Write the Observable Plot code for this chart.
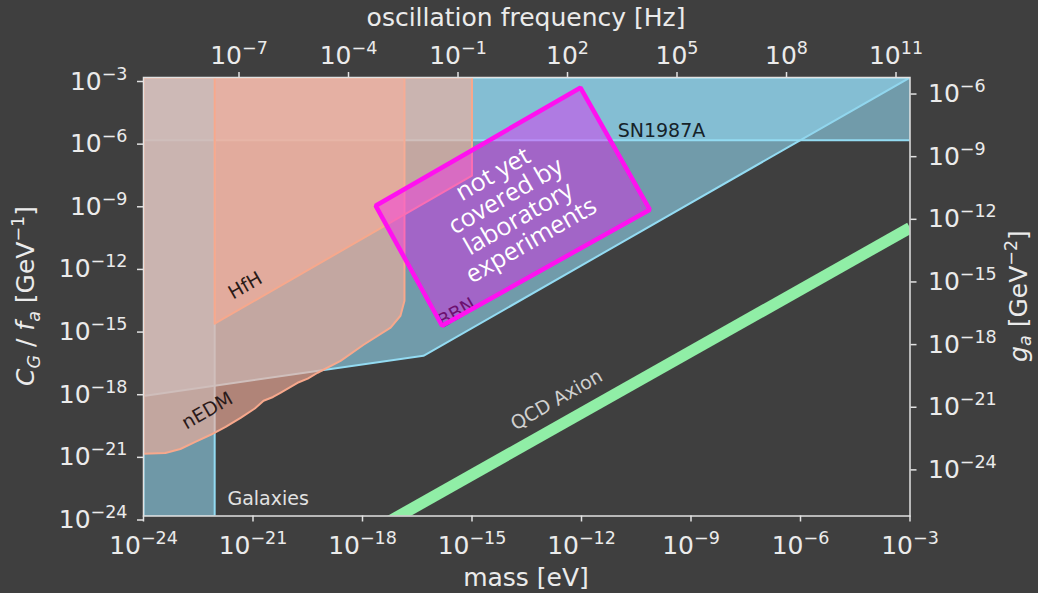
<!DOCTYPE html>
<html>
<head>
<meta charset="utf-8">
<script src="https://cdn.jsdelivr.net/npm/d3@7"></script>
<script src="https://cdn.jsdelivr.net/npm/@observablehq/plot@0.6"></script>
<style>
  html, body { margin: 0; padding: 0; background: #3f3f3f; }
  #chart { width: 1038px; height: 593px; }
</style>
</head>
<body>
<div id="chart"></div>
<script>
// ---- tick values (powers of ten) ----
const massTickExponents = [-24, -21, -18, -15, -12, -9, -6, -3];
const couplingTickExponents = [-3, -6, -9, -12, -15, -18, -21, -24];
const frequencyTickExponents = [-7, -4, -1, 2, 5, 8, 11];
const gaTickExponents = [-6, -9, -12, -15, -18, -21, -24];

// secondary axes: f = m / h, and g_a proportional to C_G / f_a
const planckEvSeconds = 4.135667696e-15;
const gaPerCouplingExponent = -2.4;

// ---- excluded regions: log10(mass / eV), log10(C_G/f_a / GeV^-1) ----
const bbnLogMass = [-24, -16.33, -3, -24];
const bbnLogCoupling = [-18.25, -16.33, -3, -3];

const sn1987aLogMass = [-24, -3, -3, -24];
const sn1987aLogCoupling = [-6, -6, -3, -3];

const galaxiesLogMass = [-24, -22.05, -22.05, -24];
const galaxiesLogCoupling = [-24, -24, -3, -3];

const nedmLogMass = [-24, -23.40, -22.99, -22.58, -22.16, -21.75, -21.34, -20.95, -20.71, -20.45, -20.25, -19.78, -19.50, -19.23, -18.60, -17.97, -17.23, -16.96, -16.85, -16.85, -24];
const nedmLogCoupling = [-21.02, -20.98, -20.79, -20.45, -20.11, -19.73, -19.30, -18.85, -18.48, -18.30, -18.10, -17.62, -17.42, -17.14, -16.57, -15.80, -14.98, -14.41, -13.69, -3, -3];

const hfhLogMass = [-22.05, -15, -15, -22.05];
const hfhLogCoupling = [-14.79, -7.7, -3, -3];

// QCD axion band
const qcdLogMass = [-17.5, -3];
const qcdLogCoupling = [-24.49, -10.2];

// highlighted target window
const windowLogMass = [-17.64, -12.03, -10.13, -15.82];
const windowLogCoupling = [-9.14, -3.49, -9.33, -14.89];
const windowText = "not yet\ncovered by\nlaboratory\nexperiments";

// ---- helpers ----
const points = (lm, lc) => lm.map((m, i) => ({mass: 10 ** m, coupling: 10 ** lc[i]}));
const pow10Label = (e) => "10^" + (e < 0 ? "\u2212" + (-e) : String(e));
const expOf = (v) => Math.round(Math.log10(v));

const BLUE_FILL = "#8fd4ec", BLUE_EDGE = "#93dbf2";
const SALMON_FILL = "#f5af9b", SALMON_EDGE = "#f7a88c";

const region = (lm, lc, fill, stroke, opacity) =>
  Plot.line(points(lm, lc), {
    x: "mass", y: "coupling", curve: "linear-closed",
    fill, fillOpacity: opacity, stroke, strokeWidth: 2, clip: true
  });

const label = (text, lm, lc, opts) =>
  Plot.text([{mass: 10 ** lm, coupling: 10 ** lc}], {
    x: "mass", y: "coupling", text: () => text,
    fontFamily: "DejaVu Sans", fontSize: 19, ...opts
  });

const TICK_COLOR = "#e2e2e2";

const plot = Plot.plot({
  width: 1038,
  height: 593,
  marginLeft: 143,
  marginRight: 128.5,
  marginTop: 77,
  marginBottom: 77.5,
  x: {type: "log", domain: [1e-24, 1e-3], axis: null},
  y: {type: "log", domain: [1e-24, 1e-3], axis: null},
  style: {background: "#3f3f3f", color: "#ebebeb", fontFamily: "DejaVu Sans", overflow: "visible"},
  marks: [
    // blue constraints
    region(bbnLogMass, bbnLogCoupling, BLUE_FILL, BLUE_EDGE, 0.62),
    region(sn1987aLogMass, sn1987aLogCoupling, BLUE_FILL, BLUE_EDGE, 0.62),
    region(galaxiesLogMass, galaxiesLogCoupling, BLUE_FILL, BLUE_EDGE, 0.6),
    // laboratory constraints
    region(nedmLogMass, nedmLogCoupling, SALMON_FILL, SALMON_EDGE, 0.62),
    region(hfhLogMass, hfhLogCoupling, SALMON_FILL, SALMON_EDGE, 0.62),
    // QCD axion line
    Plot.line(points(qcdLogMass, qcdLogCoupling), {
      x: "mass", y: "coupling", stroke: "#90eea6", strokeWidth: 11.5, strokeLinecap: "butt", clip: true
    }),
    // region names
    label("HfH", -21.21, -12.97, {rotate: -30, fill: "#2a1b17"}),
    label("nEDM", -22.25, -18.96, {rotate: -30, fill: "#2a1a1a"}),
    label("BBN", -15.42, -14.27, {rotate: -30, fill: "#1e1a24"}),
    label("SN1987A", -11.01, -5.54, {textAnchor: "start", fill: "#16232a"}),
    label("Galaxies", -21.70, -23.18, {textAnchor: "start", fill: "#e2e2e2"}),
    label("QCD Axion", -12.68, -18.44, {rotate: -30, fill: "#d0d0d0"}),
    // highlighted window
    Plot.line(points(windowLogMass, windowLogCoupling), {
      x: "mass", y: "coupling", curve: "linear-closed",
      fill: "#ff00ff", fillOpacity: 0.35, stroke: "#ff10f0", strokeWidth: 4.5, strokeLinejoin: "miter"
    }),
    Plot.text([{mass: 10 ** -13.905, coupling: 10 ** -9.21}], {
      x: "mass", y: "coupling", text: () => windowText,
      rotate: -30, fill: "white", fontFamily: "Open Sans", fontSize: 25, lineHeight: 1.02
    }),
    // axes
    Plot.axisX(massTickExponents.map((e) => 10 ** e), {
      anchor: "bottom", tickSize: 6, tickPadding: 14, fontSize: 25, strokeWidth: 1.5,
      stroke: TICK_COLOR, tickFormat: (d) => pow10Label(expOf(d)), label: null
    }),
    Plot.axisX(frequencyTickExponents.map((e) => planckEvSeconds * 10 ** e), {
      anchor: "top", tickSize: 6, tickPadding: 8, fontSize: 25, strokeWidth: 1.5,
      stroke: TICK_COLOR, tickFormat: (d) => pow10Label(expOf(d / planckEvSeconds)), label: null
    }),
    Plot.axisY(couplingTickExponents.map((e) => 10 ** e), {
      anchor: "left", tickSize: 6, tickPadding: 10, fontSize: 25, strokeWidth: 1.5, dy: 4,
      stroke: TICK_COLOR, tickFormat: (d) => pow10Label(expOf(d)), label: null
    }),
    Plot.axisY(gaTickExponents.map((e) => 10 ** (e - gaPerCouplingExponent)), {
      anchor: "right", tickSize: 6, tickPadding: 12, fontSize: 25, strokeWidth: 1.5, dy: 4,
      stroke: TICK_COLOR, tickFormat: (d) => pow10Label(Math.round(Math.log10(d) + gaPerCouplingExponent)), label: null
    }),
    Plot.frame({stroke: TICK_COLOR, strokeWidth: 1.5})
  ]
});

document.getElementById("chart").appendChild(plot);

// turn "10^−24" tick strings into a base with a raised exponent
const SVGNS = "http://www.w3.org/2000/svg";
d3.select(plot).selectAll("text").each(function () {
  const s = this.textContent;
  const i = s.indexOf("^");
  if (i < 0) return;
  this.textContent = s.slice(0, i);
  const sup = document.createElementNS(SVGNS, "tspan");
  sup.setAttribute("dy", "-10");
  sup.style.fontSize = "70%";
  sup.textContent = s.slice(i + 1);
  this.appendChild(sup);
});

// axis titles with sub/superscripts
const svg = d3.select(plot);
function title(parts, x, y, rotate, subShift) {
  const t = svg.append("text")
    .attr("transform", `translate(${x},${y}) rotate(${rotate})`)
    .attr("text-anchor", "middle")
    .attr("fill", "#ebebeb")
    .attr("font-family", "DejaVu Sans")
    .attr("font-size", 25);
  let shift = 0;
  for (const [str, kind, italic] of parts) {
    const target = kind === "sub" ? subShift : kind === "sup" ? -10 : 0;
    const ts = t.append("tspan").text(str).attr("dy", target - shift);
    shift = target;
    if (kind) ts.style("font-size", "70%");
    if (italic) ts.attr("font-style", "italic");
  }
}
title([["mass [eV]"]], 526, 586, 0, 6);
title([["oscillation frequency [Hz]"]], 526, 26, 0, 6);
title([["C", "", true], ["G", "sub", true], [" / "], ["f", "", true], ["a", "sub", true], [" [GeV"], ["\u22121", "sup"], ["]"]], 34, 296, -90, 6);
title([["g", "", true], ["a", "sub", true], [" [GeV"], ["\u22122", "sup"], ["]"]], 1027, 296, -90, 4);
</script>
</body>
</html>
